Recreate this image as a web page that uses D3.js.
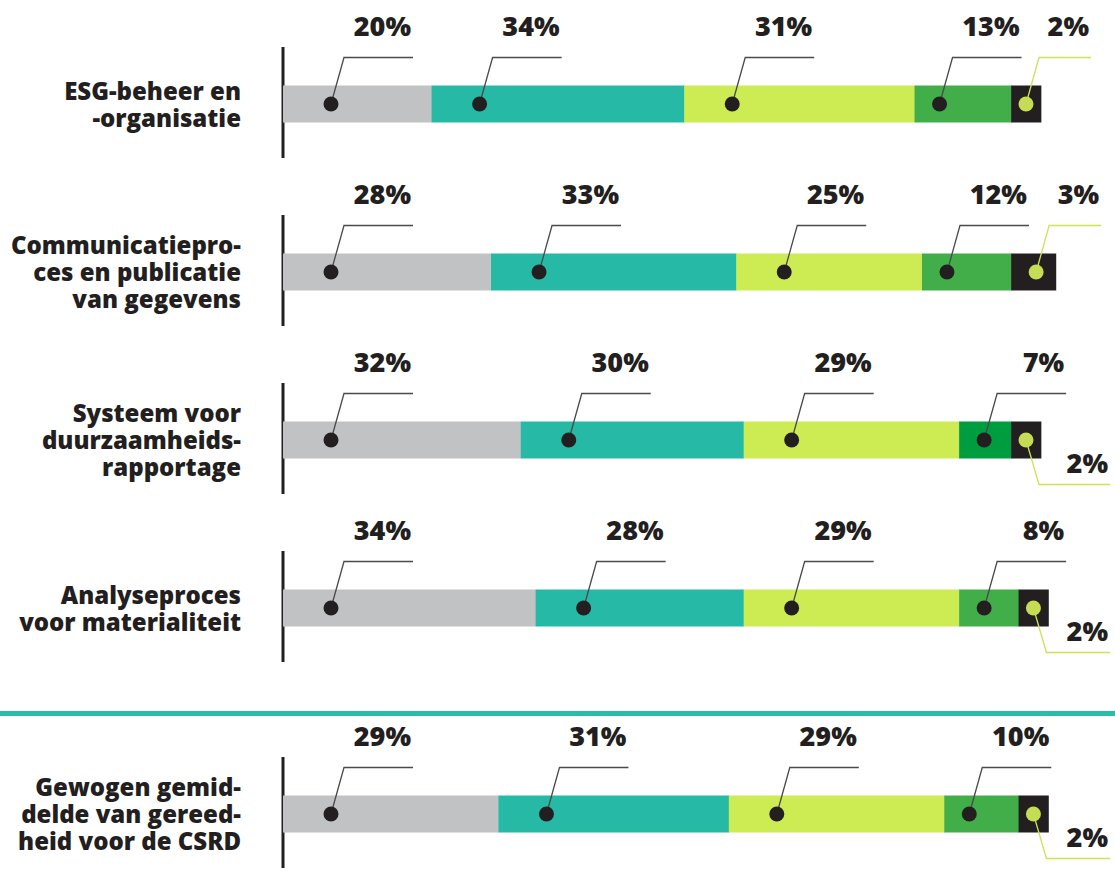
<!DOCTYPE html>
<html>
<head>
<meta charset="utf-8">
<script src="https://cdn.jsdelivr.net/npm/d3@7"></script>
<style>
  body { margin: 0; background: #fff; }
  text { font-family: "Open Sans", Lato, sans-serif; font-weight: 800; fill: #231f20; }
</style>
</head>
<body>
<div id="chart"></div>
<script>
// Categories (row labels, already broken into lines as in the original)
const categories = [
    ["ESG-beheer en", "-organisatie"],
    ["Communicatiepro-", "ces en publicatie", "van gegevens"],
    ["Systeem voor", "duurzaamheids-", "rapportage"],
    ["Analyseproces", "voor materialiteit"],
    ["Gewogen gemid-", "delde van gereed-", "heid voor de CSRD"]
];

// Five answer levels, left to right
const seriesColors = ["#c1c2c4", "#25b9a6", "#cdeb52", "#41ae4a", "#231f20"];

// Share per row (percent)
const level1 = [20, 28, 32, 34, 29];
const level2 = [34, 33, 30, 28, 31];
const level3 = [31, 25, 29, 29, 29];
const level4 = [13, 12, 7, 8, 10];
const level5 = [2, 3, 2, 2, 2];

const series = [level1, level2, level3, level4, level5];

const W = 1115, H = 886;
const svg = d3.select("#chart").append("svg")
    .attr("width", W)
    .attr("height", H);

const x = d3.scaleLinear().domain([0, 100]).range([283, 283 + 743]);
const len = d3.scaleLinear().domain([0, 100]).range([0, 743]);

// first four rows evenly spaced, the summary row sits below a divider
const rowY = d3.scaleLinear().domain([0, 3]).range([104, 608]);
const cy = i => i < 4 ? rowY(i) : 814;
const barH = 37;

// divider above the weighted average
svg.append("rect")
    .attr("x", 0).attr("y", 711)
    .attr("width", W).attr("height", 5)
    .attr("fill", "#2bbba8");

categories.forEach((lines, i) => {
    const c = cy(i);
    const top = c - barH / 2, bottom = c + barH / 2;

    // row axis
    svg.append("line")
        .attr("x1", 283).attr("x2", 283)
        .attr("y1", c - 57).attr("y2", c + 54)
        .attr("stroke", "#231f20").attr("stroke-width", 3);

    // row label, one text per line
    const lh = 27;
    const first = c + 9 - (lines.length - 1) * lh / 2;
    lines.forEach((s, k) => {
        svg.append("text")
            .attr("x", 241)
            .attr("y", first + k * lh)
            .attr("text-anchor", "end")
            .attr("font-size", 24)
            .text(s);
    });

    // segments
    let acc = 0;
    const segs = series.map((s, j) => {
        const v = s[i];
        // the closing segment is tiny, so it is drawn at double width
        const w = j === series.length - 1 ? len(v) * 2 : len(v);
        const x0 = x(acc);
        acc += v;
        let color = seriesColors[j];
        if (i === 2 && j === 3) color = "#009d40";
        return { v, x0, w, color, j };
    });
    // keep the drawn segments touching
    for (let j = 1; j < segs.length; j++) segs[j].x0 = segs[j - 1].x0 + segs[j - 1].w;

    svg.append("g").selectAll("rect")
        .data(segs)
        .join("rect")
        .attr("x", d => d.x0)
        .attr("y", top)
        .attr("width", d => d.w + 0.5)
        .attr("height", barH)
        .attr("fill", d => d.color);

    // callouts
    segs.forEach(d => {
        d.dx = d.x0 + (d.w < 40 ? d.w / 2 : d.w < 110 ? 25 : 48);
        d.lx0 = d.dx + 13;
        d.lx1 = d.dx + 82;
    });
    const last = segs[segs.length - 1];
    const prev = segs[segs.length - 2];
    last.down = last.lx0 < prev.lx1 + 6;
    last.lx1 = last.down ? Math.min(last.dx + 86, W - 5) : last.dx + 65;

    const g = svg.append("g");
    segs.forEach(d => {
        const isLast = d === last;
        const lineCol = isLast ? "#c9e35a" : "#4a4a4a";
        const ly = d.down ? bottom + 26 : top - 28;
        g.append("polyline")
            .attr("points", [[d.dx, c], [d.lx0, ly], [d.lx1, ly]].map(p => p.join(",")).join(" "))
            .attr("fill", "none")
            .attr("stroke", lineCol)
            .attr("stroke-width", 1.3);
        g.append("circle")
            .attr("cx", d.dx).attr("cy", c)
            .attr("r", 7.5)
            .attr("fill", isLast ? "#c5dd55" : "#231f20");
        g.append("text")
            .attr("x", d.lx1 - 2)
            .attr("y", d.down ? ly - 12 : ly - 22)
            .attr("text-anchor", "end")
            .attr("font-size", 27)
            .text(d.v + "%");
    });
});
</script>
</body>
</html>
